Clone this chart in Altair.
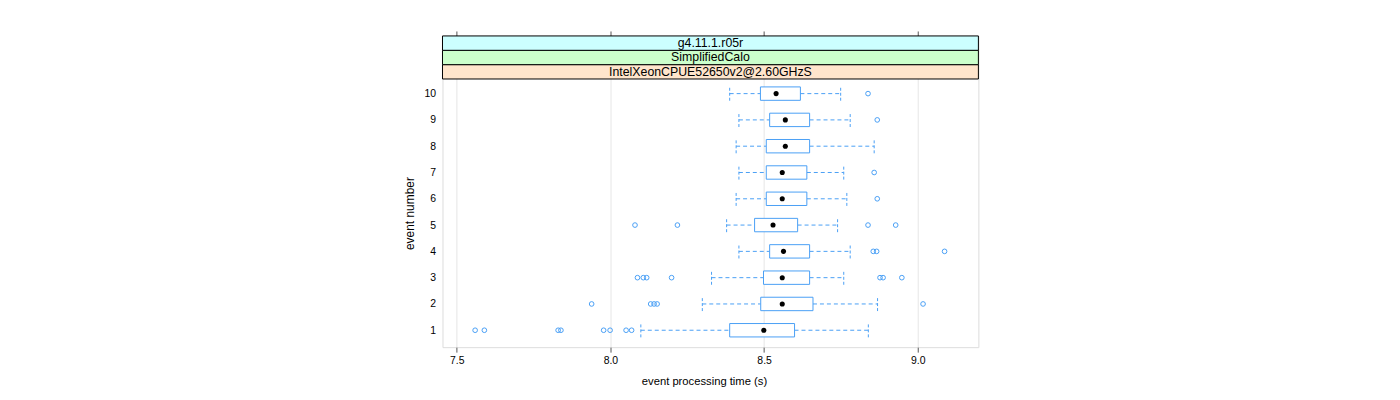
import altair as alt
import pandas as pd

# ---- data ----
events = [1, 2, 3, 4, 5, 6, 7, 8, 9, 10]
whisk_lo = [8.099, 8.299, 8.329, 8.418, 8.378, 8.409, 8.418, 8.409, 8.418, 8.388]
q1 = [8.388, 8.489, 8.498, 8.518, 8.469, 8.507, 8.507, 8.507, 8.518, 8.488]
median = [8.499, 8.559, 8.559, 8.563, 8.529, 8.559, 8.559, 8.569, 8.569, 8.539]
q3 = [8.599, 8.659, 8.648, 8.648, 8.609, 8.639, 8.639, 8.648, 8.648, 8.618]
whisk_hi = [8.839, 8.869, 8.759, 8.780, 8.739, 8.769, 8.759, 8.858, 8.780, 8.749]

outlier_event = [1, 1, 1, 1, 1, 1, 1, 1,
                 2, 2, 2, 2, 2,
                 3, 3, 3, 3, 3, 3, 3,
                 4, 4, 4,
                 5, 5, 5, 5,
                 6, 7, 9, 10]
outlier_time = [7.560, 7.590, 7.830, 7.839, 7.978, 7.999, 8.051, 8.069,
                7.939, 8.131, 8.142, 8.152, 9.017,
                8.088, 8.107, 8.118, 8.199, 8.877, 8.887, 8.948,
                8.855, 8.866, 9.087,
                8.080, 8.218, 8.838, 8.928,
                8.868, 8.858, 8.868, 8.838]

strip_labels = ["IntelXeonCPUE52650v2@2.60GHzS", "SimplifiedCalo", "g4.11.1.r05r"]
strip_colors = ["#ffe5cc", "#ccffcc", "#ccffff"]
x_ticks = [7.5, 8.0, 8.5, 9.0]
y_ticks = events

# ---- styling constants ----
FONT = "Liberation Sans"
BLUE = "#4a9ff5"
X_DOMAIN = [7.4538, 9.197]
Y_DOMAIN = [0.357, 12.193]
PANEL_TOP = 10.556
STRIP_H = (Y_DOMAIN[1] - PANEL_TOP) / 3
BOX_HALF = 0.255
CAP_HALF = 0.27
W, H = 539, 313
PANEL_PIX_TOP = H * (Y_DOMAIN[1] - PANEL_TOP) / (Y_DOMAIN[1] - Y_DOMAIN[0])
Y_TITLE_POS = (PANEL_PIX_TOP + H) / 2
X_TITLE_POS = 263

box_df = pd.DataFrame({"event": events, "lo": whisk_lo, "q1": q1, "med": median,
                       "q3": q3, "hi": whisk_hi})
out_df = pd.DataFrame({"event": outlier_event, "time": outlier_time})
strip_df = pd.DataFrame({
    "label": strip_labels,
    "color": strip_colors,
    "idx": list(range(len(strip_labels))),
})

xs = alt.Scale(domain=X_DOMAIN, nice=False, zero=False)
ys = alt.Scale(domain=Y_DOMAIN, nice=False, zero=False)

y_axis = alt.Axis(values=y_ticks, ticks=False, domain=False, grid=False, orient="left",
                  labelPadding=7, labelFontSize=10.5, labelFont=FONT, labelColor="#000",
                  title="event number", titleFont=FONT, titleFontSize=12,
                  titleFontWeight="normal", titleColor="#000", titlePadding=7,
                  titleY=Y_TITLE_POS)

x_axis = alt.Axis(values=x_ticks, format=".1f", grid=True, gridColor="#e6e6e6",
                  domain=False, ticks=True, tickSize=5, tickColor="#555", orient="bottom",
                  labelPadding=3, labelFontSize=10.5, labelFont=FONT, labelColor="#000",
                  title="event processing time (s)", titleFont=FONT, titleFontSize=11.3,
                  titleFontWeight="normal", titleColor="#000", titlePadding=10,
                  titleX=X_TITLE_POS)

x_axis_top = alt.Axis(values=x_ticks, orient="top", grid=False, domain=False,
                      labels=False, ticks=True, tickSize=5, tickColor="#555", title=None)

base = alt.Chart(box_df)

# whiskers (dashed)
whisk_left = base.mark_rule(color=BLUE, strokeDash=[4, 3], strokeWidth=1).encode(
    x=alt.X("lo:Q", scale=xs, axis=x_axis),
    x2="q1:Q",
    y=alt.Y("event:Q", scale=ys, axis=y_axis),
)
whisk_right = base.mark_rule(color=BLUE, strokeDash=[4, 3], strokeWidth=1).encode(
    x=alt.X("q3:Q", scale=xs, axis=None),
    x2="hi:Q",
    y=alt.Y("event:Q", scale=ys, axis=None),
)

caps_base = base.transform_calculate(
    ylo=f"datum.event - {CAP_HALF}", yhi=f"datum.event + {CAP_HALF}"
)
cap_lo = caps_base.mark_rule(color=BLUE, strokeDash=[3, 2], strokeWidth=1).encode(
    x=alt.X("lo:Q", scale=xs, axis=None),
    y=alt.Y("ylo:Q", scale=ys, axis=None),
    y2="yhi:Q",
)
cap_hi = caps_base.mark_rule(color=BLUE, strokeDash=[3, 2], strokeWidth=1).encode(
    x=alt.X("hi:Q", scale=xs, axis=None),
    y=alt.Y("ylo:Q", scale=ys, axis=None),
    y2="yhi:Q",
)

box = base.transform_calculate(
    ylo=f"datum.event - {BOX_HALF}", yhi=f"datum.event + {BOX_HALF}"
).mark_rect(fill="white", stroke=BLUE, strokeWidth=1).encode(
    x=alt.X("q1:Q", scale=xs, axis=None),
    x2="q3:Q",
    y=alt.Y("ylo:Q", scale=ys, axis=None),
    y2="yhi:Q",
)

med_pts = base.mark_circle(color="black", size=26, opacity=1).encode(
    x=alt.X("med:Q", scale=xs, axis=x_axis_top),
    y=alt.Y("event:Q", scale=ys, axis=None),
)

outliers = alt.Chart(out_df).mark_point(shape="circle", filled=False, color=BLUE,
                                        size=22, strokeWidth=1, opacity=1).encode(
    x=alt.X("time:Q", scale=xs, axis=None),
    y=alt.Y("event:Q", scale=ys, axis=None),
)

strip_base = alt.Chart(strip_df).transform_calculate(
    y0=f"{PANEL_TOP} + datum.idx * {STRIP_H}",
    y1=f"{PANEL_TOP} + (datum.idx + 1) * {STRIP_H}",
    ym=f"{PANEL_TOP} + (datum.idx + 0.5) * {STRIP_H}",
)
strips = strip_base.mark_rect(stroke="black", strokeWidth=1).encode(
    x=alt.value(0),
    x2=alt.value(W),
    y=alt.Y("y0:Q", scale=ys, axis=None),
    y2="y1:Q",
    fill=alt.Fill("color:N", scale=None, legend=None),
)
strip_text = strip_base.mark_text(font=FONT, fontSize=12.4, color="black",
                                  align="center", baseline="middle").encode(
    x=alt.value(W / 2),
    y=alt.Y("ym:Q", scale=ys, axis=None),
    text="label:N",
)

chart = alt.layer(
    whisk_left, whisk_right, cap_lo, cap_hi, box, med_pts, outliers, strips, strip_text
).resolve_axis(x="independent", y="independent").properties(
    width=W, height=H,
    autosize=alt.AutoSizeParams(type="none"),
    padding={"left": 437, "top": 27, "right": 416, "bottom": 45},
).configure_view(stroke="#6e6e6e", strokeWidth=1).configure(background="white")

chart.save("out.html", embed_options={"renderer": "svg", "actions": False})
